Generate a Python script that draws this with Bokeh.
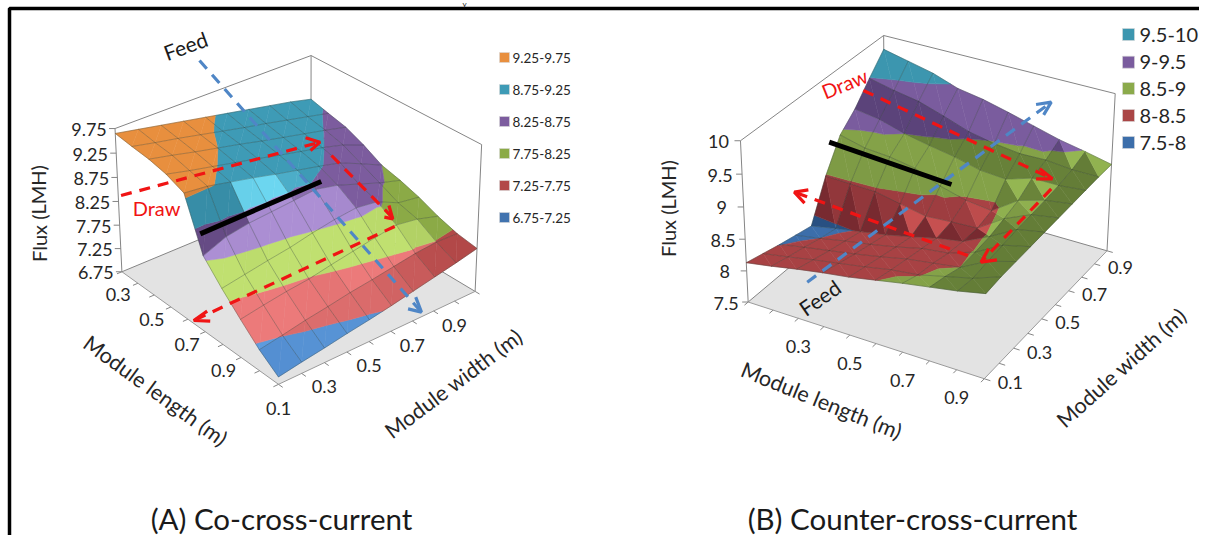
from bokeh.plotting import figure
from bokeh.embed import file_html
from bokeh.resources import INLINE
from bokeh.core.properties import value
from bokeh.models import Range1d
import numpy as np

# ---------- data ----------
FLUX_A = [
 [9.65,9.56,9.47,9.38,9.29,9.20,9.11,9.02,8.93,8.82],
 [9.60,9.50,9.41,9.31,9.21,9.11,9.02,8.92,8.82,8.72],
 [9.56,9.46,9.35,9.25,9.15,9.04,8.94,8.84,8.74,8.63],
 [9.48,9.37,9.27,9.17,9.07,8.96,8.86,8.76,8.64,8.46],
 [9.33,9.28,9.18,9.08,8.97,8.87,8.77,8.66,8.46,8.25],
 [8.31,8.50,8.58,8.62,8.66,8.70,8.60,8.44,8.28,8.15],
 [7.90,7.98,8.06,8.13,8.23,8.31,8.36,8.30,8.09,8.02],
 [7.53,7.61,7.68,7.73,7.82,7.90,7.98,8.05,7.98,7.85],
 [7.18,7.26,7.35,7.42,7.50,7.56,7.63,7.70,7.74,7.72],
 [6.90,6.98,7.05,7.13,7.20,7.28,7.37,7.46,7.55,7.65],
]
FLUX_B = [
 [8.13,8.06,7.99,7.93,7.87,8.48,8.95,9.18,9.49,9.78],
 [8.20,8.13,8.07,8.00,7.95,8.47,8.85,9.12,9.40,9.69],
 [8.28,8.21,8.14,8.08,8.02,8.46,8.82,9.00,9.33,9.60],
 [8.35,8.28,8.21,8.15,8.09,8.38,8.75,8.92,9.20,9.46],
 [8.41,8.35,8.29,8.23,8.18,8.30,8.58,8.85,9.06,9.39],
 [8.49,8.43,8.38,8.33,8.28,8.33,8.47,8.75,8.98,9.29],
 [8.57,8.48,8.44,8.38,8.35,8.35,8.42,8.72,8.93,9.18],
 [8.64,8.58,8.50,8.52,8.55,8.62,8.70,8.85,8.94,9.07],
 [8.71,8.68,8.72,8.75,8.78,8.80,8.82,8.85,8.90,8.99],
 [8.80,8.83,8.84,8.85,8.86,8.87,8.88,8.89,8.90,8.90],
]
BANDS_A = [6.75,7.25,7.75,8.25,8.75,9.25,9.75]
BANDS_B = [7.5,8.0,8.5,9.0,9.5,10.0]
LEGEND_A = ["9.25-9.75","8.75-9.25","8.25-8.75","7.75-8.25","7.25-7.75","6.75-7.25"]
LEGEND_B = ["9.5-10","9-9.5","8.5-9","8-8.5","7.5-8"]
Z_TICKS_A = ["6.75","7.25","7.75","8.25","8.75","9.25","9.75"]
Z_TICKS_B = ["7.5","8","8.5","9","9.5","10"]
GRID_TICKS = ["0.1","0.3","0.5","0.7","0.9"]

# ---------- styles: (dark, base, light) per band, low to high ----------
PAL_A = [((50,95,150),(72,125,190),(92,155,222)),
         ((150,60,60),(178,72,72),(236,122,122)),
         ((115,140,60),(139,170,70),(192,224,112)),
         ((92,68,122),(124,92,158),(172,143,212)),
         ((52,135,160),(62,155,182),(108,214,240)),
         ((205,125,55),(232,143,62),(240,165,100))]
PAL_B = [((40,80,130),(60,110,170),(70,125,190)),
         ((120,42,48),(168,66,68),(198,80,80)),
         ((100,125,55),(132,162,72),(148,182,82)),
         ((88,64,118),(122,92,158),(132,100,170)),
         ((50,130,150),(60,150,175),(66,160,186))]
LEG_A = [(232,143,62),(62,155,182),(124,92,158),(139,170,70),(178,72,72),(65,115,175)]
LEG_B = [(60,150,175),(122,92,158),(139,170,75),(170,70,70),(60,110,170)]

def hexc(c):
    return "#%02x%02x%02x" % tuple(int(round(v)) for v in c)

def fit_camera(anchors):
    rows, rhs = [], []
    for (X,Y,Z),(u,v) in anchors:
        rows.append([X,Y,Z,1,0,0,0,0,-u*X,-u*Y,-u*Z]); rhs.append(u)
        rows.append([0,0,0,0,X,Y,Z,1,-v*X,-v*Y,-v*Z]); rhs.append(v)
    sol = np.linalg.lstsq(np.array(rows,float),np.array(rhs,float),rcond=None)[0]
    return np.append(sol,1.0).reshape(3,4)

def make_proj(P, zmin, zmax):
    def proj(i,j,z):
        w = np.array([i/9.0,j/9.0,(z-zmin)/(zmax-zmin),1.0])
        q = P@w
        return q[0]/q[2], q[1]/q[2]
    return proj

def clip_band(tri, lo, hi):
    def cut(poly, keep, lim):
        out=[]
        for a,b in zip(poly, poly[1:]+poly[:1]):
            ka,kb=keep(a[2]),keep(b[2])
            if ka: out.append(a)
            if ka!=kb:
                t=(lim-a[2])/(b[2]-a[2])
                out.append(tuple(a[k]+t*(b[k]-a[k]) for k in range(3)))
        return out
    poly=cut(list(tri),lambda z:z>=lo,lo)
    if poly: poly=cut(poly,lambda z:z<=hi,hi)
    return poly

def shade_a(i,j,k,z):
    if i==4 and j<=1: return -.7
    d=-.5*((z[i+1,j]-z[i,j])+(z[i+1,j+1]-z[i,j+1]))
    if d<.2: return 0.0
    if d<.33: return (d-.2)/.13
    if d<.5: return 1.0
    if d<.8: return 1-(d-.5)/.3
    return 0.0

def shade_b(i,j,k,z):
    if i==8 and j==8: return -1.0 if k==0 else .8
    if i==8: return -1.0
    if j==4:
        if k==0: return -1.0
        if i in (3,4,6): return 1.0
        return -.45
    if j==7: return -.9
    if j==5:
        if i<5: return -.2
        return .7 if k==1 else -.2
    if i==7 and j>=5: return -.8 if k==0 else 1.0
    if i==6 and j==6: return -.8 if k==0 else 1.0
    if j<=3 and i==7: return -.9
    return 0.0

def mix(pal,t):
    d,b,l=[np.array(c,float) for c in pal]
    return b+(l-b)*t if t>=0 else b+(d-b)*(-t)

p = figure(width=1199,height=535,output_backend="svg",toolbar_location=None,
           x_range=Range1d(0,1199),y_range=Range1d(535,0),min_border=0,
           outline_line_color=None,background_fill_color="white")
p.axis.visible=False
p.grid.visible=False

def txt(x,y,s,size,color="#262626",ang=0.0,align="center"):
    p.text(x=[x],y=[y],text=[s],angle=[np.radians(ang)],text_font=value("Lato"),
           text_font_size=f"{size}px",text_color=color,text_align=align,text_baseline="middle")

def chart(flux,bands,pal,shade,anchors,ztick_labels,
          len_off,wid_off,z_off,lab_size):
    z=np.array(flux,float); zmin,zmax=bands[0],bands[-1]
    P=fit_camera(anchors); pr=make_proj(P,zmin,zmax)
    n=z.shape[0]-1
    c=[pr(0,0,zmin),pr(n,0,zmin),pr(n,n,zmin),pr(0,n,zmin)]
    p.patch([q[0] for q in c],[q[1] for q in c],fill_color="#e3e3e3",line_color=None)
    wall=[[(0,0,zmin),(0,0,zmax),(0,n,zmax),(n,n,zmax),(n,n,zmin)],
          [(0,n,zmax),(0,n,zmin)],[(0,0,zmin),(0,n,zmin),(n,n,zmin)]]
    for w in wall:
        pts=[pr(*q) for q in w]
        p.line([q[0] for q in pts],[q[1] for q in pts],line_color="#858585",line_width=1)
    edge=[pr(0,0,zmin),pr(n,0,zmin),pr(n,n,zmin)]
    p.line([q[0] for q in edge],[q[1] for q in edge],line_color="#9a9a9a",line_width=1)
    xs,ys=[],[]
    for k in range(n+1):
        a=pr(k,0,zmin);b=pr(k,-.22,zmin);xs.append([a[0],b[0]]);ys.append([a[1],b[1]])
        a=pr(n,k,zmin);b=pr(n+.22,k,zmin);xs.append([a[0],b[0]]);ys.append([a[1],b[1]])
    for v in bands:
        a=pr(0,0,v);xs.append([a[0],a[0]-6]);ys.append([a[1],a[1]])
    p.multi_line(xs,ys,line_color="#858585",line_width=1)
    px,py,fc=[],[],[]
    for i in range(n):
        for j in range(n-1,-1,-1):
            tris=[((i,j,z[i,j]),(i+1,j,z[i+1,j]),(i,j+1,z[i,j+1])),
                  ((i+1,j+1,z[i+1,j+1]),(i+1,j,z[i+1,j]),(i,j+1,z[i,j+1]))]
            for k,tri in enumerate(tris):
                t=shade(i,j,k,z)
                for b in range(len(bands)-1):
                    poly=clip_band(tri,bands[b],bands[b+1])
                    if len(poly)>=3:
                        q=[pr(*a) for a in poly]
                        px.append([a[0] for a in q]);py.append([a[1] for a in q])
                        fc.append(hexc(mix(pal[b],t)))
    p.patches(px,py,fill_color=fc,line_color=fc,line_width=.5)
    gx,gy=[],[]
    for a in range(n+1):
        q=[pr(a,k,z[a,k]) for k in range(n+1)]
        gx.append([u[0] for u in q]);gy.append([u[1] for u in q])
        q=[pr(k,a,z[k,a]) for k in range(n+1)]
        gx.append([u[0] for u in q]);gy.append([u[1] for u in q])
    p.multi_line(gx,gy,line_color="#2a3a30",line_alpha=.4,line_width=.8)
    for v,s in zip(bands,ztick_labels):
        a=pr(0,0,v); txt(a[0]+z_off,a[1]+1,s,lab_size)
    for k,s in enumerate(GRID_TICKS):
        a=pr(2*k,0,zmin)
        if s!="0.1" or len_off[2]: txt(a[0]+len_off[0],a[1]+len_off[1],s,lab_size)
        a=pr(n,2*k,zmin); txt(a[0]+wid_off[0],a[1]+wid_off[1],s,lab_size)

def zA(x,y): return (x/2.613,y/3.0)
def zB(x,y): return (620+x/2.635,y/3.0)

chart(FLUX_A,BANDS_A,PAL_A,shade_a,
  [((0,0,0),zA(317,818)),((0,0,1),zA(298,383)),((1,0,0),zA(728,1148)),
   ((1,1,0),zA(1238,880)),((1,1,1),zA(1258,428)),((0,1,1),zA(812,170)),((0,1,0),zA(812,570))],
  Z_TICKS_A,(-36,0,False),(0,24,0),-26,18)
chart(FLUX_B,BANDS_B,PAL_B,shade_b,
  [((0,0,0),zB(338,905)),((0,0,1),zB(315,420)),((1,0,0),zB(958,1135)),
   ((1,1,0),zB(1283,750)),((1,1,1),zB(1303,280)),((0,1,1),zB(695,105)),((0,1,0),zB(695,560))],
  Z_TICKS_B,(0,28,False),(26,4,0),-22,18)

# frame
p.line([9,9,1199],[535,8,8],line_color="black",line_width=3.5)
txt(464,3,"y",8,"#1a1a1a")

def seg(pts,conv,color,w,dash=None):
    q=[conv(*a) for a in pts]
    kw={} if dash is None else {"line_dash":dash}
    p.line([a[0] for a in q],[a[1] for a in q],line_color=color,line_width=w,**kw)

RED="#f01414";BLUE="#4f86c6"
arrows_A=[([(315,585),(835,425)],[(797,412),(835,425),(810,450)],RED),
          ([(865,465),(1025,652)],[(1003,650),(1025,655),(1015,615)],RED),
          ([(1030,678),(505,960)],[(540,932),(505,960),(548,962)],RED),
          ([(520,180),(1100,935)],[(1065,925),(1100,935),(1085,890)],BLUE)]
arrows_B=[([(640,270),(1138,535)],[(1105,505),(1138,535),(1095,535)],RED),
          ([(1135,565),(950,785)],[(970,745),(950,785),(992,778)],RED),
          ([(915,765),(458,575)],[(495,568),(458,575),(485,608)],RED),
          ([(492,845),(1135,305)],[(1095,312),(1135,305),(1115,343)],BLUE)]
for arr,conv in ((arrows_A,zA),(arrows_B,zB)):
    for line,head,col in arr:
        seg(line,conv,col,3.2,"11 8")
        seg(head,conv,col,3.2)
seg([(522,700),(838,543)],zA,"black",5)
seg([(550,425),(872,552)],zB,"black",5)

for k,(s,c) in enumerate(zip(LEGEND_A,LEG_A)):
    y=57+32*k
    p.quad(left=[499],right=[509],top=[y-5],bottom=[y+5],fill_color=hexc(c),line_color="#d8d8d8",line_width=.6)
    txt(512,y,s,13.5,align="left")
for k,(s,c,y) in enumerate(zip(LEGEND_B,LEG_B,[34,61.7,88,115,142])):
    p.quad(left=[1122],right=[1134],top=[y-6],bottom=[y+6],fill_color=hexc(c),line_color="#d8d8d8",line_width=.6)
    txt(1139,y,s,20,align="left")

txt(38,213,"Flux (LMH)",20,ang=90)
txt(667,208,"Flux (LMH)",20,ang=90)
txt(155,390,"Module length (m)",21.5,ang=-36)
txt(453,383,"Module width (m)",21.5,ang=37)
txt(821,400,"Module length (m)",21.5,ang=-22)
txt(1121,367,"Module width (m)",21.5,ang=42)
txt(185,45,"Feed",21,"#1a1a1a",ang=20)
txt(819,297,"Feed",21,"#1a1a1a",ang=35)
txt(156,207,"Draw",20,"#f01414")
txt(844,83,"Draw",20,"#f01414",ang=22)
txt(281,518,"(A) Co-cross-current",29.5,"#1a1a1a")
txt(912,518,"(B) Counter-cross-current",29.5,"#1a1a1a")

open("out.html","w").write(file_html(p,INLINE))
